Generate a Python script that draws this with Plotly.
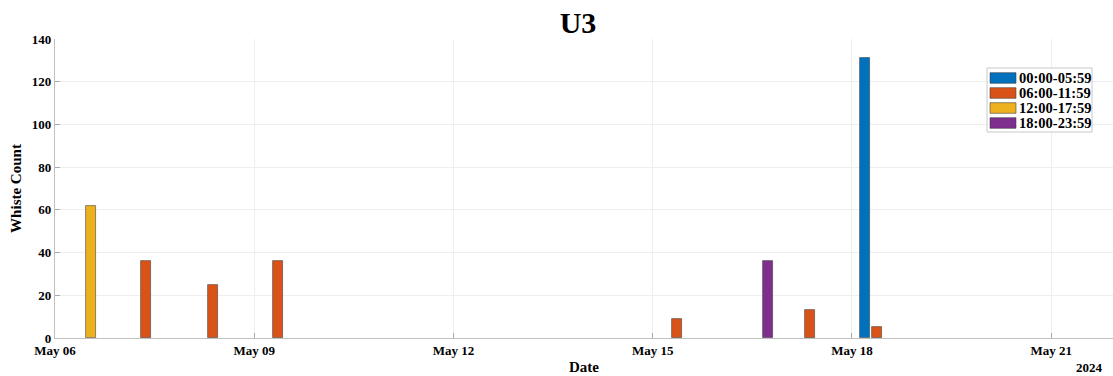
import plotly.graph_objects as go

# ---- data ----
series_names = ["00:00-05:59", "06:00-11:59", "12:00-17:59", "18:00-23:59"]
series_colors = ["#0072BD", "#D95319", "#EDB120", "#7E2F8E"]

blue_times = ["2024-05-18 04:45"]
blue_counts = [131]

orange_times = ["2024-05-07 09:00", "2024-05-08 09:00", "2024-05-09 08:45",
                "2024-05-15 08:45", "2024-05-17 09:00", "2024-05-18 09:00"]
orange_counts = [36, 25, 36, 9, 13, 5]

yellow_times = ["2024-05-06 13:00"]
yellow_counts = [62]

purple_times = ["2024-05-16 17:30"]
purple_counts = [36]

tick_dates = ["2024-05-06", "2024-05-09", "2024-05-12", "2024-05-15", "2024-05-18", "2024-05-21"]
tick_labels = ["May 06", "May 09", "May 12", "May 15", "May 18", "May 21"]
y_ticks = [0, 20, 40, 60, 80, 100, 120, 140]

FONT = "Liberation Serif"
BAR_WIDTH_MS = 0.151 * 86400000

# figure geometry (page body margin removed via post_script)
W, H = 1113, 376
ML, MR, MT, MB = 55, 0, 39, 38
PW, PH = W - ML - MR, H - MT - MB


def px(page_x):
    return (page_x - ML) / PW


def py(page_y):
    return 1 - (page_y - MT) / PH


fig = go.Figure()
for name, color, xs, ys in zip(series_names, series_colors,
                               [blue_times, orange_times, yellow_times, purple_times],
                               [blue_counts, orange_counts, yellow_counts, purple_counts]):
    fig.add_trace(go.Bar(
        x=xs, y=ys, name=name,
        width=[BAR_WIDTH_MS] * len(xs),
        marker=dict(color=color, line=dict(color="rgba(60,60,60,0.7)", width=0.8)),
        showlegend=False,
    ))

fig.update_layout(
    width=W, height=H,
    margin=dict(l=ML, r=MR, t=MT, b=MB, autoexpand=False),
    paper_bgcolor="white", plot_bgcolor="white",
    font=dict(family=FONT, size=13, color="black", weight="bold"),
    title=dict(text="U3", x=px(578), xref="paper", y=1 - 22 / H, yref="container",
               xanchor="center", yanchor="middle",
               font=dict(family=FONT, size=30, color="black", weight="bold")),
    bargap=0, barmode="overlay",
    showlegend=False,
)

fig.update_xaxes(
    type="date",
    range=["2024-05-06 00:00", "2024-05-21 22:20"],
    tickvals=tick_dates, ticktext=tick_labels,
    showgrid=True, gridcolor="#efefef", gridwidth=1,
    showline=True, linecolor="#c0c0c0", linewidth=1.2,
    ticks="inside", ticklen=5, tickcolor="#a8a8a8",
    zeroline=False, automargin=False,
    tickfont=dict(family=FONT, size=13, color="black", weight="bold"),
    title=dict(text="Date", standoff=4,
               font=dict(family=FONT, size=15, color="black", weight="bold")),
)
fig.update_yaxes(
    range=[0, 140], tickvals=y_ticks,
    showgrid=True, gridcolor="#efefef", gridwidth=1,
    showline=True, linecolor="#c0c0c0", linewidth=1.2,
    ticks="inside", ticklen=5, tickcolor="#a8a8a8",
    zeroline=False, automargin=False,
    tickfont=dict(family=FONT, size=13, color="black", weight="bold"),
    title=dict(text="Whiste Count", standoff=6,
               font=dict(family=FONT, size=15, color="black", weight="bold")),
)

# "2024" secondary date label
fig.add_annotation(text="2024", xref="paper", yref="paper",
                   x=px(1089), y=py(367),
                   xanchor="center", yanchor="middle", showarrow=False,
                   font=dict(family=FONT, size=13, color="black", weight="bold"))

# legend box drawn MATLAB-style
fig.add_shape(type="rect", xref="paper", yref="paper",
              x0=px(987), x1=px(1092), y0=py(132), y1=py(68),
              fillcolor="white", line=dict(color="#c8c8c8", width=1), layer="above")
for i, (name, color) in enumerate(zip(series_names, series_colors)):
    cy = 78 + 15 * i
    fig.add_shape(type="rect", xref="paper", yref="paper",
                  x0=px(990), x1=px(1016), y0=py(cy + 5.3), y1=py(cy - 5.3),
                  fillcolor=color, line=dict(color="rgba(60,60,60,0.7)", width=0.8),
                  layer="above")
    fig.add_annotation(text=name, xref="paper", yref="paper",
                       x=px(1016.5), y=py(cy), xanchor="left", yanchor="middle",
                       showarrow=False,
                       font=dict(family=FONT, size=14.5, color="black", weight="bold"))

fig.write_html("out.html",
               config={"displayModeBar": False},
               post_script="document.body.style.margin='0';document.body.style.overflow='hidden';")
